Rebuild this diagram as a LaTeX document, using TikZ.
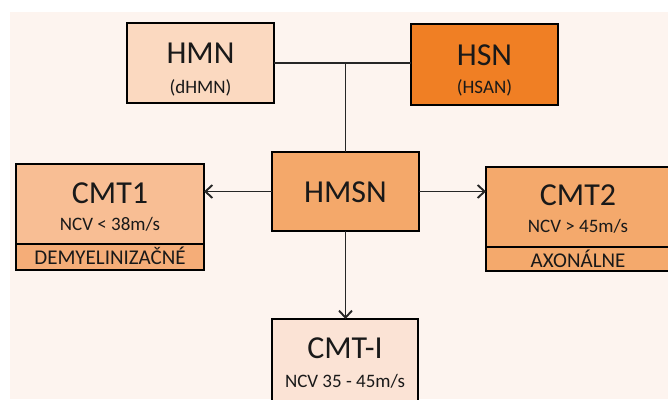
\documentclass[tikz,border=0pt]{standalone}
\usepackage{fontspec}
\setmainfont{Carlito}
\usetikzlibrary{arrows.meta}
\definecolor{bgc}{HTML}{FDF4EF}
\definecolor{hmnc}{HTML}{FBD9C0}
\definecolor{hsnc}{HTML}{F07F24}
\definecolor{hmsnc}{HTML}{F4A86A}
\definecolor{cmtonec}{HTML}{F8BE94}
\definecolor{cmtoneband}{HTML}{F5AD78}
\definecolor{cmttwoc}{HTML}{F4A96C}
\definecolor{cmtic}{HTML}{FBE3D5}
\begin{document}
\begin{tikzpicture}[x=1pt,y=-1pt,
  box/.style={draw=black, line width=1.8pt, rectangle, inner sep=0pt, outer sep=0pt},
  bigtxt/.style={font=\fontsize{32}{36}\selectfont, anchor=base, inner sep=0pt, text=black!90},
  smalltxt/.style={font=\fontsize{19}{22}\selectfont, anchor=base, inner sep=0pt, text=black!90},
  bandtxt/.style={font=\fontsize{21}{24}\selectfont, anchor=base, inner sep=0pt, text=black!90},
  conn/.style={line width=1.9pt, draw=black!85},
  arr/.style={conn, -{Straight Barb[length=7pt,width=13pt,line width=1.9pt]}}]
\useasboundingbox (0,0) rectangle (668,399);
\fill[bgc] (10,12) rectangle (668,399);

% boxes
\node[box, fill=hmnc, minimum width=147pt, minimum height=80pt] (hmn) at (200.5,63) {};
\node[box, fill=hsnc, minimum width=147pt, minimum height=81pt] (hsn) at (484.5,64.5) {};
\node[box, fill=hmsnc, line width=2.4pt, minimum width=147pt, minimum height=79pt] (hmsn) at (345.5,191.5) {};
\node[box, fill=cmtonec, minimum width=188pt, minimum height=106pt] (cmtone) at (110,217) {};
\node[box, fill=cmttwoc, minimum width=190pt, minimum height=104pt] (cmttwo) at (581,219) {};
\node[box, fill=cmtic, minimum width=146pt, minimum height=84pt] (cmti) at (345,361) {};

% bottom bands
\fill[cmtoneband] (cmtone.west |- 0,244) rectangle (cmtone.south east);
\draw[line width=1.8pt] (cmtone.north west) rectangle (cmtone.south east);
\draw[line width=1.8pt] (cmtone.west |- 0,244) -- (cmtone.east |- 0,244);
\draw[line width=1.8pt] (cmttwo.west |- 0,247) -- (cmttwo.east |- 0,247);

% texts
\node[bigtxt] (thmn) at (200.5,63) {HMN};
\node[smalltxt] (tdhmn) at (200.5,93) {(dHMN)};
\node[bigtxt] (thsn) at (484.5,65) {HSN};
\node[smalltxt] (thsan) at (484.5,93) {(HSAN)};
\node[bigtxt] (thmsn) at (345.5,202) {HMSN};
\node[bigtxt] (tcmtone) at (110,203) {CMT1};
\node[smalltxt] (tncvone) at (110,230) {NCV < 38m/s};
\node[bandtxt] (tdemy) at (110,264) {DEMYELINIZAČNÉ};
\node[bigtxt] (tcmttwo) at (578,205) {CMT2};
\node[smalltxt] (tncvtwo) at (578,232) {NCV > 45m/s};
\node[bandtxt] (taxo) at (578,267) {AXONÁLNE};
\node[bigtxt] (tcmti) at (345,358) {CMT-I};
\node[smalltxt] (tncvi) at (345,387) {NCV 35 - 45m/s};

% connectors
\coordinate (j) at (hmn.east -| hmsn.north);
\draw[conn] (hmn.east) -- (hmn.east -| hsn.west);
\draw[conn] (j) -- (hmsn.north);
\draw[arr] (hmsn.west) -- (hmsn.west -| cmtone.east);
\draw[arr] (hmsn.east) -- (hmsn.east -| cmttwo.west);
\draw[arr] (hmsn.south) -- (hmsn.south |- cmti.north);
\end{tikzpicture}
\end{document}
